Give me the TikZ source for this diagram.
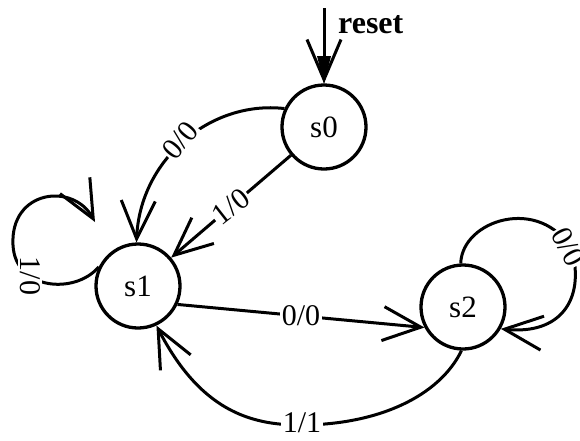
\documentclass[tikz,border=0pt]{standalone}
\usepackage{fontspec}
\setmainfont{Liberation Serif}
\usetikzlibrary{arrows.meta}
\begin{document}
\begin{tikzpicture}[x=1pt,y=-1pt,
  state/.style={draw, circle, line width=3.3pt, minimum size=84pt, inner sep=0pt, font=\fontsize{31}{31}\selectfont},
  edge/.style={line width=3pt, -{Straight Barb[length=38pt,width=34pt]}},
  lbl/.style={fill=white, inner sep=1.5pt, font=\fontsize{30}{30}\selectfont}]
\useasboundingbox (0,0) rectangle (580,440);
\node[state] (s0) at (324,127) {s0};
\node[state] (s1) at (138,286) {s1};
\node[state] (s2) at (463,307) {s2};
\coordinate (rst) at (324,8);
\draw[line width=3pt, -{Straight Barb[length=40pt,width=34pt]}] (rst) -- (s0);
\fill (324,84) -- (317,56) -- (331,56) -- cycle;
\node[font=\bfseries\fontsize{32}{32}\selectfont, anchor=base west, inner sep=0pt] (rlbl) at (338,33) {reset};
% s0 -> s1 (0/0)
\draw[edge] (s0.155) .. controls (210,100) and (140,160) .. (s1.92);
\node[lbl, rotate=50] (l1) at (180,140) {0/0};
% s0 -> s1 (1/0)
\draw[edge] (s0) -- node[lbl, rotate=38] (l2) {1/0} (s1);
% s1 self loop (1/0)
\coordinate (t1) at (95,222);
\draw[edge] (s1.154) .. controls (75,295) and (15,290) .. (13,245) .. controls (10,190) and (73,182) .. (t1);
\node[lbl, rotate=-90] (l3) at (30,276) {1/0};
% s1 -> s2 (0/0)
\draw[edge] (s1.-25) -- node[lbl] (l4) {0/0} (s2.208);
% s2 self loop (0/0)
\draw[edge] (s2.93) .. controls (462,220) and (540,195) .. (572,250) .. controls (585,300) and (560,335) .. (s2.-30);
\node[lbl, rotate=-62] (l5) at (568,247) {0/0};
% s2 -> s1 (1/1)
\draw[edge] (s2.268) .. controls (440,395) and (380,425) .. (300,425) .. controls (250,425) and (200,410) .. (s1.-65);
\node[lbl] (l6) at (302,423) {1/1};
\end{tikzpicture}
\end{document}
